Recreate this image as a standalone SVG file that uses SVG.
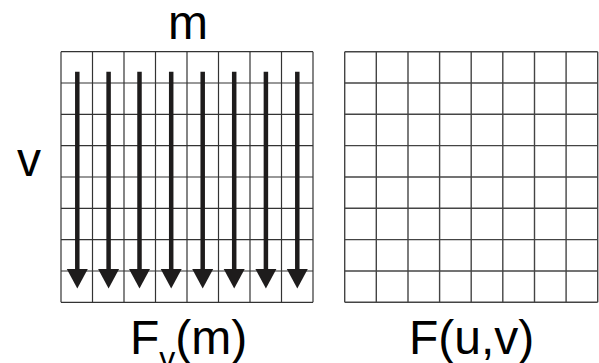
<svg xmlns="http://www.w3.org/2000/svg" width="599" height="363" viewBox="0 0 599 363">
<defs>
<style>
.grid line{stroke:#333;stroke-width:1.2}
.gridR line{stroke:#444;stroke-width:1.4}
.shaft{stroke:#1e1c1c;stroke-width:4.5}
.head{fill:#1e1c1c}
text{font-family:"Liberation Sans",Arial,sans-serif;fill:#000}
</style>
<g id="arrow">
<line class="shaft" x1="0" y1="71.7" x2="0" y2="271"/>
<polygon class="head" points="-10.5,269 10.5,269 0,288.5"/>
</g>
</defs>
<rect width="599" height="363" fill="#fff"/>
<g id="grid-left" class="grid">
<line x1="61" y1="51.7" x2="61" y2="302.3"/>
<line x1="92.5" y1="51.7" x2="92.5" y2="302.3"/>
<line x1="124" y1="51.7" x2="124" y2="302.3"/>
<line x1="155.5" y1="51.7" x2="155.5" y2="302.3"/>
<line x1="187" y1="51.7" x2="187" y2="302.3"/>
<line x1="218.5" y1="51.7" x2="218.5" y2="302.3"/>
<line x1="250" y1="51.7" x2="250" y2="302.3"/>
<line x1="281.5" y1="51.7" x2="281.5" y2="302.3"/>
<line x1="313" y1="51.7" x2="313" y2="302.3"/>
<line x1="61" y1="51.7" x2="313" y2="51.7"/>
<line x1="61" y1="83" x2="313" y2="83"/>
<line x1="61" y1="114.3" x2="313" y2="114.3"/>
<line x1="61" y1="145.6" x2="313" y2="145.6"/>
<line x1="61" y1="177" x2="313" y2="177"/>
<line x1="61" y1="208.3" x2="313" y2="208.3"/>
<line x1="61" y1="239.6" x2="313" y2="239.6"/>
<line x1="61" y1="271" x2="313" y2="271"/>
<line x1="61" y1="302.3" x2="313" y2="302.3"/>
</g>
<g id="arrows">
<use href="#arrow" x="77.3"/>
<use href="#arrow" x="108.6"/>
<use href="#arrow" x="139.5"/>
<use href="#arrow" x="171.2"/>
<use href="#arrow" x="202.7"/>
<use href="#arrow" x="234.2"/>
<use href="#arrow" x="265.9"/>
<use href="#arrow" x="297.3"/>
</g>
<g id="grid-right" class="gridR">
<line x1="344.7" y1="51.7" x2="344.7" y2="302.3"/>
<line x1="376.3" y1="51.7" x2="376.3" y2="302.3"/>
<line x1="408" y1="51.7" x2="408" y2="302.3"/>
<line x1="439.6" y1="51.7" x2="439.6" y2="302.3"/>
<line x1="471.2" y1="51.7" x2="471.2" y2="302.3"/>
<line x1="502.8" y1="51.7" x2="502.8" y2="302.3"/>
<line x1="534.5" y1="51.7" x2="534.5" y2="302.3"/>
<line x1="566.1" y1="51.7" x2="566.1" y2="302.3"/>
<line x1="597.7" y1="51.7" x2="597.7" y2="302.3"/>
<line x1="344.7" y1="51.7" x2="597.7" y2="51.7"/>
<line x1="344.7" y1="83" x2="597.7" y2="83"/>
<line x1="344.7" y1="114.3" x2="597.7" y2="114.3"/>
<line x1="344.7" y1="145.6" x2="597.7" y2="145.6"/>
<line x1="344.7" y1="177" x2="597.7" y2="177"/>
<line x1="344.7" y1="208.3" x2="597.7" y2="208.3"/>
<line x1="344.7" y1="239.6" x2="597.7" y2="239.6"/>
<line x1="344.7" y1="271" x2="597.7" y2="271"/>
<line x1="344.7" y1="302.3" x2="597.7" y2="302.3"/>
</g>
<g id="labels">
<text x="188" y="38.5" font-size="48" text-anchor="middle">m</text>
<text x="29" y="175.7" font-size="48" text-anchor="middle">v</text>
<text x="130" y="354.3" font-size="48">F<tspan font-size="32" dy="15">v</tspan><tspan dy="-15">(m)</tspan></text>
<text x="409" y="354.3" font-size="48">F(u,v)</text>
</g>
</svg>
